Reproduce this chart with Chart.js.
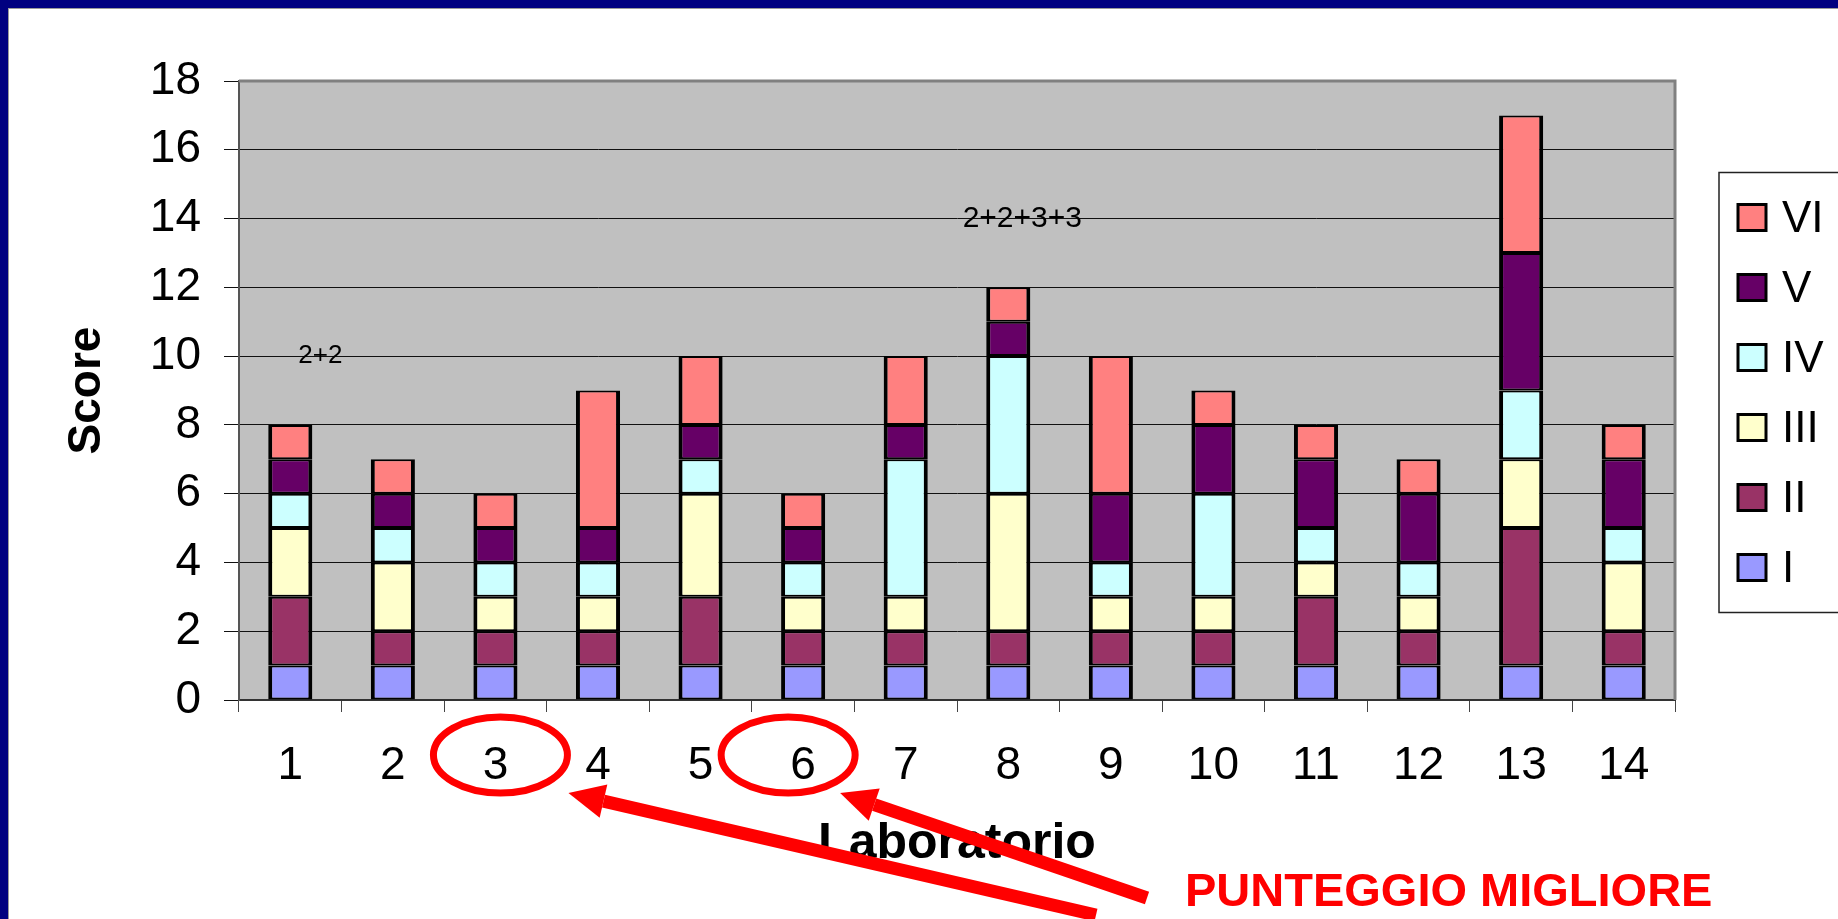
<!DOCTYPE html>
<html lang="it">
<head>
<meta charset="utf-8">
<title>Score per laboratorio</title>
<script src="https://cdn.jsdelivr.net/npm/chart.js@4.4.1/dist/chart.umd.min.js"></script>
<style>
  html, body { margin: 0; padding: 0; }
  body { width: 1838px; height: 919px; background: #000080; overflow: hidden; position: relative; }
  #foglio { position: absolute; left: 8px; top: 8px; right: 0; bottom: 0; background: #fff;
            border-left: 1px solid #9a9a9a; border-top: 1px solid #9a9a9a; }
  #grafico { position: absolute; left: 0; top: 0; }
</style>
</head>
<body>
<div id="foglio"></div>
<canvas id="grafico" width="1838" height="919"></canvas>
<script>
// Dati
const laboratori = ["1", "2", "3", "4", "5", "6", "7", "8", "9", "10", "11", "12", "13", "14"];
const nomiSerie = ["I", "II", "III", "IV", "V", "VI"];
const coloriSerie = ["#9999FF", "#993366", "#FFFFCC", "#CCFFFF", "#660066", "#FF8080"];

const valoriI = [1, 1, 1, 1, 1, 1, 1, 1, 1, 1, 1, 1, 1, 1];
const valoriII = [2, 1, 1, 1, 2, 1, 1, 1, 1, 1, 2, 1, 4, 1];
const valoriIII = [2, 2, 1, 1, 3, 1, 1, 4, 1, 1, 1, 1, 2, 2];
const valoriIV = [1, 1, 1, 1, 1, 1, 4, 4, 1, 3, 1, 1, 2, 1];
const valoriV = [1, 1, 1, 1, 1, 1, 1, 1, 2, 2, 2, 2, 4, 2];
const valoriVI = [1, 1, 1, 4, 2, 1, 2, 1, 4, 1, 1, 1, 4, 1];

const scoreMin = 0;
const scoreMax = 18;
const scorePasso = 2;

// Note scritte sopra le barre
const note = ["2+2", "2+2+3+3"];
const noteLab = ["1", "8"];
const noteScore = [10, 14];

// Laboratori cerchiati in rosso
const labMigliori = ["3", "6"];
const testoMigliore = "PUNTEGGIO MIGLIORE";

const FONT = "'Liberation Sans', Arial, sans-serif";

const tuttiValori = [valoriI, valoriII, valoriIII, valoriIV, valoriV, valoriVI];

const datasets = nomiSerie.map((nome, i) => ({
  label: nome,
  data: tuttiValori[i],
  backgroundColor: coloriSerie[i],
  borderColor: "#000",
  borderWidth: { top: 2, bottom: 2, left: 4, right: 4 },
  borderSkipped: false,
  barPercentage: 0.43,
  categoryPercentage: 1,
}));

// Sfondo grigio dell'area del grafico
const sfondoArea = {
  id: "sfondoArea",
  beforeDraw(chart) {
    const { ctx, chartArea: a } = chart;
    ctx.save();
    ctx.fillStyle = "#C0C0C0";
    ctx.fillRect(a.left, a.top, a.right - a.left, a.bottom - a.top);
    ctx.restore();
  },
  afterDatasetsDraw(chart) {
    const { ctx, chartArea: a } = chart;
    ctx.save();
    ctx.strokeStyle = "#808080";
    ctx.lineWidth = 3;
    ctx.beginPath();
    ctx.moveTo(a.left, a.top);
    ctx.lineTo(a.right, a.top);
    ctx.lineTo(a.right, a.bottom);
    ctx.stroke();
    ctx.restore();
  },
};

// Legenda disegnata a mano (ordine inverso, con riquadro)
const legenda = {
  id: "legenda",
  afterDraw(chart) {
    const { ctx, chartArea: a } = chart;
    const sinistra = a.right + 44;
    const centro = (a.top + a.bottom) / 2 + 2;
    const passo = 70;
    const alto = centro - 220;
    ctx.save();
    ctx.strokeStyle = "#222";
    ctx.lineWidth = 1.5;
    ctx.strokeRect(sinistra, alto, 200, 440);
    ctx.font = "44px " + FONT;
    ctx.textBaseline = "middle";
    ctx.textAlign = "left";
    const n = chart.data.datasets.length;
    chart.data.datasets.slice().reverse().forEach((ds, i) => {
      const y = centro - ((n - 1) / 2) * passo + i * passo;
      ctx.fillStyle = ds.backgroundColor;
      ctx.fillRect(sinistra + 19, y - 13, 28, 26);
      ctx.strokeStyle = "#000";
      ctx.lineWidth = 3;
      ctx.strokeRect(sinistra + 19, y - 13, 28, 26);
      ctx.fillStyle = "#000";
      ctx.fillText(ds.label, sinistra + 63, y + 2);
    });
    ctx.restore();
  },
};

// Freccia piena rossa
const freccia = (ctx, x1, y1, x2, y2) => {
  const ang = Math.atan2(y2 - y1, x2 - x1);
  const lung = 36;
  const mezza = 17;
  const bx = x2 - lung * Math.cos(ang);
  const by = y2 - lung * Math.sin(ang);
  ctx.beginPath();
  ctx.moveTo(x1, y1);
  ctx.lineTo(bx, by);
  ctx.stroke();
  ctx.beginPath();
  ctx.moveTo(x2, y2);
  ctx.lineTo(bx + mezza * Math.sin(ang), by - mezza * Math.cos(ang));
  ctx.lineTo(bx - mezza * Math.sin(ang), by + mezza * Math.cos(ang));
  ctx.closePath();
  ctx.fill();
};

// Note, cerchi e frecce
const annotazioni = {
  id: "annotazioni",
  afterDraw(chart) {
    const { ctx, chartArea: a } = chart;
    const x = chart.scales.x;
    const y = chart.scales.y;
    ctx.save();

    ctx.fillStyle = "#000";
    ctx.textAlign = "center";
    ctx.textBaseline = "middle";
    note.forEach((testo, i) => {
      ctx.font = (i === 0 ? "26px " : "30px ") + FONT;
      const px = x.getPixelForValue(laboratori.indexOf(noteLab[i])) + (i === 0 ? 30 : 14);
      ctx.fillText(testo, px, y.getPixelForValue(noteScore[i]));
    });

    const yCerchio = a.bottom + 55;
    const spost = [5, -15];
    const centri = labMigliori.map((lab, i) => x.getPixelForValue(laboratori.indexOf(lab)) + spost[i]);
    ctx.strokeStyle = "#FF0000";
    ctx.fillStyle = "#FF0000";
    ctx.lineWidth = 7;
    centri.forEach((cx) => {
      ctx.beginPath();
      ctx.ellipse(cx, yCerchio, 67, 38, 0, 0, Math.PI * 2);
      ctx.stroke();
    });

    const tx = a.right - 490;
    const ty = a.bottom + 193;
    ctx.lineWidth = 13;
    freccia(ctx, tx - 89, ty + 22, centri[0] + 68, yCerchio + 38);
    freccia(ctx, tx - 38, ty + 5, centri[1] + 52, yCerchio + 38);

    ctx.font = "bold 47px " + FONT;
    ctx.textAlign = "left";
    ctx.fillText(testoMigliore, tx, ty);
    ctx.restore();
  },
};

const ctx = document.getElementById("grafico");

new Chart(ctx, {
  type: "bar",
  data: { labels: laboratori, datasets: datasets },
  options: {
    responsive: false,
    animation: false,
    layout: { padding: { left: 0, top: 81, right: 163, bottom: 0 } },
    plugins: {
      legend: { display: false },
      tooltip: { enabled: false },
    },
    scales: {
      x: {
        stacked: true,
        afterFit: (s) => { s.height = 219; },
        grid: { display: true, drawOnChartArea: false, offset: true, tickLength: 12, color: "#444" },
        border: { display: true, color: "#333", width: 2 },
        ticks: { color: "#000", padding: 27, font: { family: FONT, size: 46 } },
        title: {
          display: true,
          text: "Laboratorio",
          color: "#000",
          font: { family: FONT, size: 50, weight: "bold" },
          padding: { top: 0, bottom: 45 },
        },
      },
      y: {
        stacked: true,
        min: scoreMin,
        max: scoreMax,
        afterFit: (s) => { s.width = 239; },
        grid: { color: "#111", lineWidth: 1, tickLength: 15 },
        border: { display: true, color: "#555", width: 2 },
        ticks: { stepSize: scorePasso, color: "#000", padding: 23, font: { family: FONT, size: 46 } },
        title: {
          display: true,
          text: "Score",
          color: "#000",
          font: { family: FONT, size: 46, weight: "bold" },
          padding: { top: 60, bottom: 0 },
        },
      },
    },
  },
  plugins: [sfondoArea, legenda, annotazioni],
});
</script>
</body>
</html>
